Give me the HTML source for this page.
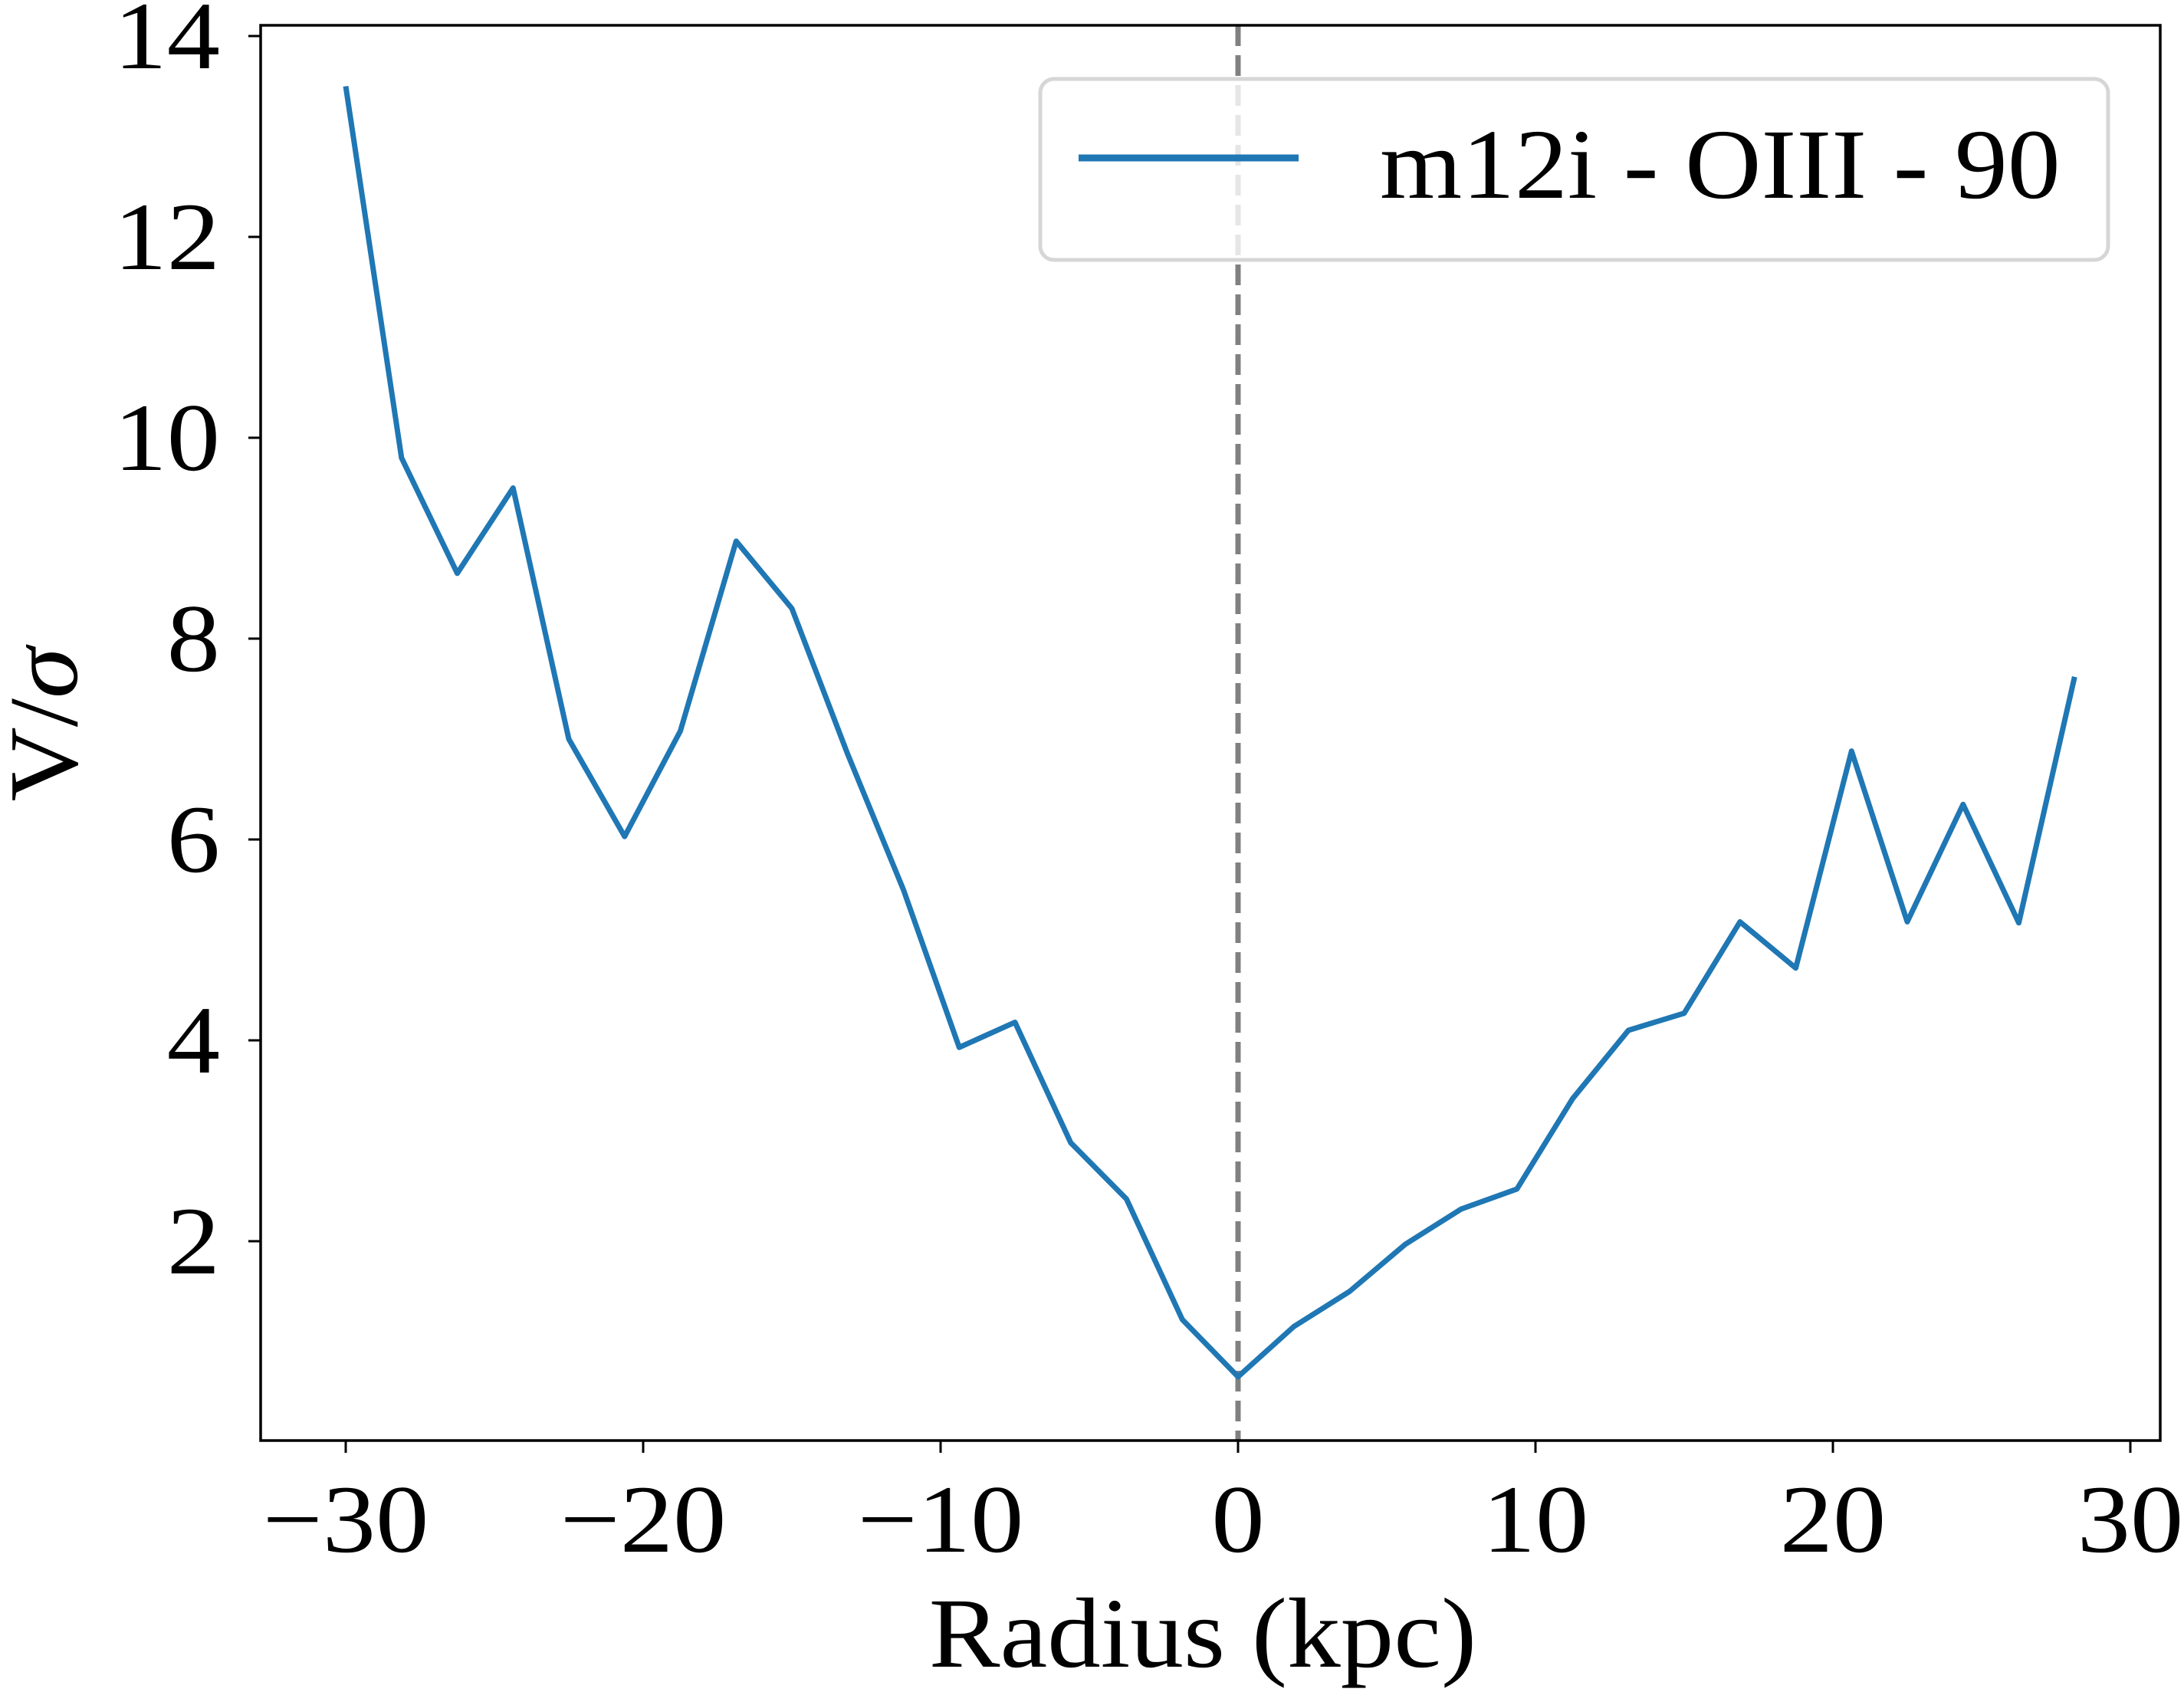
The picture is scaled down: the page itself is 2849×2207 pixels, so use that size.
<!DOCTYPE html>
<html><head><meta charset="utf-8"><style>
html,body{margin:0;padding:0;background:#fff;}
svg{display:block;}
text{font-family:"Liberation Serif",serif;fill:#000;}
</style></head><body>
<svg id="chart" width="2849" height="2207" viewBox="0 0 2849 2207">
<g id="plot"></g>
</svg>
<script>
const radiusStart = -30;
const radiusStep = 1.875;
const vSigma = [13.5, 9.8, 8.65, 9.5, 7.0, 6.03, 7.08, 8.97, 8.3, 6.85, 5.5, 3.93, 4.18, 2.98, 2.42, 1.22, 0.65, 1.15, 1.5, 1.97, 2.32, 2.52, 3.42, 4.1, 4.27, 5.18, 4.72, 6.88, 5.18, 6.35, 5.17, 7.62];
const xTicks = [-30, -20, -10, 0, 10, 20, 30];
const yTicks = [2, 4, 6, 8, 10, 12, 14];
const seriesLabel = "m12i - OIII - 90";

const L = 340, R = 2818, T = 33, B = 1879;
const xs = v => 1615 + v * (2780 - 452) / 60;
const ys = v => 1881 - v * 131;
const NS = "http://www.w3.org/2000/svg";
const g = document.getElementById('plot');
function mk(tag, attrs, parent) {
  const e = document.createElementNS(NS, tag);
  for (const k in attrs) e.setAttribute(k, attrs[k]);
  (parent || g).appendChild(e);
  return e;
}
let zl = mk('line', {x1: xs(0), x2: xs(0), y1: T, y2: B, stroke: '#808080', 'stroke-width': 7, 'stroke-dasharray': '27,12'});


const pts = vSigma.map((v, i) => xs(radiusStart + i * radiusStep).toFixed(1) + ',' + ys(v).toFixed(1)).join(' ');
let line = mk('polyline', {points: pts, fill: 'none', stroke: '#1f77b4', 'stroke-width': 7, 'stroke-linejoin': 'round'});


let fr = mk('rect', {x: L, y: T, width: R - L, height: B - T, fill: 'none', stroke: '#000', 'stroke-width': 3.5});


xTicks.forEach(t => {
  const x = xs(t);
  let tk = mk('line', {x1: x, x2: x, y1: B, y2: B + 16, stroke: '#000', 'stroke-width': 3});
  
  
  let tx = mk('text', {x: 0, y: 0, 'font-size': 126, 'text-anchor': 'middle', transform: `translate(${x},${B + 145}) scale(1.1,1)`});
  tx.textContent = t < 0 ? '\u2212' + Math.abs(t) : String(t);
  
  
});
yTicks.forEach(t => {
  const y = ys(t);
  let tk = mk('line', {x1: L - 16, x2: L, y1: y, y2: y, stroke: '#000', 'stroke-width': 3});
  
  
  let tx = mk('text', {x: 0, y: 0, 'font-size': 126, 'text-anchor': 'end', transform: `translate(${L - 53},${y + 42}) scale(1.1,1)`});
  tx.textContent = String(t);
  
  
});
let xl = mk('text', {x: 0, y: 0, 'font-size': 130, 'text-anchor': 'middle', transform: `translate(${(L + R) / 2 - 10},2174) scale(1.07,1)`});
xl.textContent = 'Radius (kpc)';


let yl = mk('text', {x: 0, y: 0, 'font-size': 128, 'text-anchor': 'middle', transform: 'translate(100,945) rotate(-90) scale(1.05,1)'});
yl.innerHTML = 'V/<tspan font-style="italic">σ</tspan>';


const lg = mk('g', {});


let lb = mk('rect', {x: 1357, y: 103, width: 1393, height: 236, rx: 18, fill: 'rgba(255,255,255,0.8)', stroke: '#d6d6d6', 'stroke-width': 5}, lg);


let ll = mk('line', {x1: 1407, x2: 1694, y1: 206, y2: 206, stroke: '#1f77b4', 'stroke-width': 9}, lg);


let lt = mk('text', {x: 0, y: 0, 'font-size': 130, transform: 'translate(1800,258) scale(1.06,1)'}, lg);
lt.textContent = seriesLabel;


</script>
</body></html>
